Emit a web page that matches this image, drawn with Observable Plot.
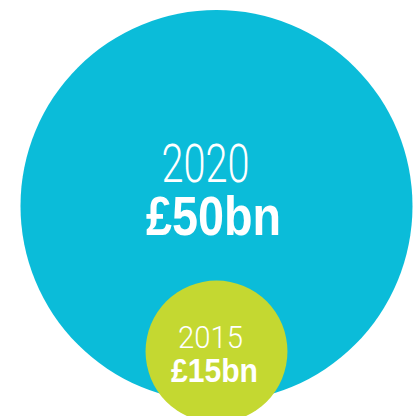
<!DOCTYPE html>
<html>
<head>
<meta charset="utf-8">
<script src="https://cdn.jsdelivr.net/npm/d3@7"></script>
<script src="https://cdn.jsdelivr.net/npm/@observablehq/plot@0.6"></script>
<style>
  html, body { margin: 0; padding: 0; background: #fff; }
  #chart svg { display: block; }
</style>
</head>
<body>
<div id="chart"></div>
<script>
const years = ["2020", "2015"];
const values = [50, 15];
const valueLabels = ["£50bn", "£15bn"];
const colors = ["#0bbcd9", "#c4d831"];

const data = years.map((y, i) => ({year: y, value: values[i], label: valueLabels[i]}));

// layout (pixels)
const layout = {
  "2020": {cx: 216, cy: 205.5, yearDx: -11, yearDy: -24, yearSize: 53, valDx: -3, valDy: 28.5, valSize: 55, yearLen: 88, valLen: 135},
  "2015": {cx: 216, cy: 351, yearDx: -6, yearDy: -4, yearSize: 32, valDx: -2, valDy: 30, valSize: 34, yearLen: 65, valLen: 87}
};

const chart = Plot.plot({
  width: 417,
  height: 416,
  margin: 0,
  x: {type: "identity", axis: null},
  y: {type: "identity", axis: null},
  r: {type: "pow", exponent: 0.844, domain: [0, 50], range: [0, 196]},
  color: {domain: years, range: colors},
  marks: [
    Plot.dot(data, {
      x: d => layout[d.year].cx,
      y: d => layout[d.year].cy,
      r: "value",
      fill: "year",
      stroke: "none"
    }),
    Plot.text(data, {
      x: d => layout[d.year].cx + layout[d.year].yearDx,
      y: d => layout[d.year].cy + layout[d.year].yearDy,
      text: "year",
      fontSize: d => layout[d.year].yearSize,
      fontWeight: 300,
      fontFamily: "Roboto, 'Liberation Sans Narrow', sans-serif",
      fill: "white",
      lineAnchor: "bottom",
      textAnchor: "middle"
    }),
    Plot.text(data, {
      x: d => layout[d.year].cx + layout[d.year].valDx,
      y: d => layout[d.year].cy + layout[d.year].valDy,
      text: "label",
      fontSize: d => layout[d.year].valSize,
      fontWeight: "bold",
      fontFamily: "'Liberation Sans Narrow', 'Arial Narrow', 'Liberation Sans', sans-serif",
      fill: "white",
      lineAnchor: "bottom",
      textAnchor: "middle"
    })
  ]
});

// fit label widths to the reference's condensed type
d3.select(chart).selectAll("text").each(function() {
  const t = this.textContent;
  for (const d of data) {
    const L = layout[d.year];
    if (t === d.year) { this.setAttribute("textLength", L.yearLen); this.setAttribute("lengthAdjust", "spacingAndGlyphs"); }
    if (t === d.label) { this.setAttribute("textLength", L.valLen); this.setAttribute("lengthAdjust", "spacingAndGlyphs"); }
  }
});

document.getElementById("chart").appendChild(chart);
</script>
</body>
</html>
